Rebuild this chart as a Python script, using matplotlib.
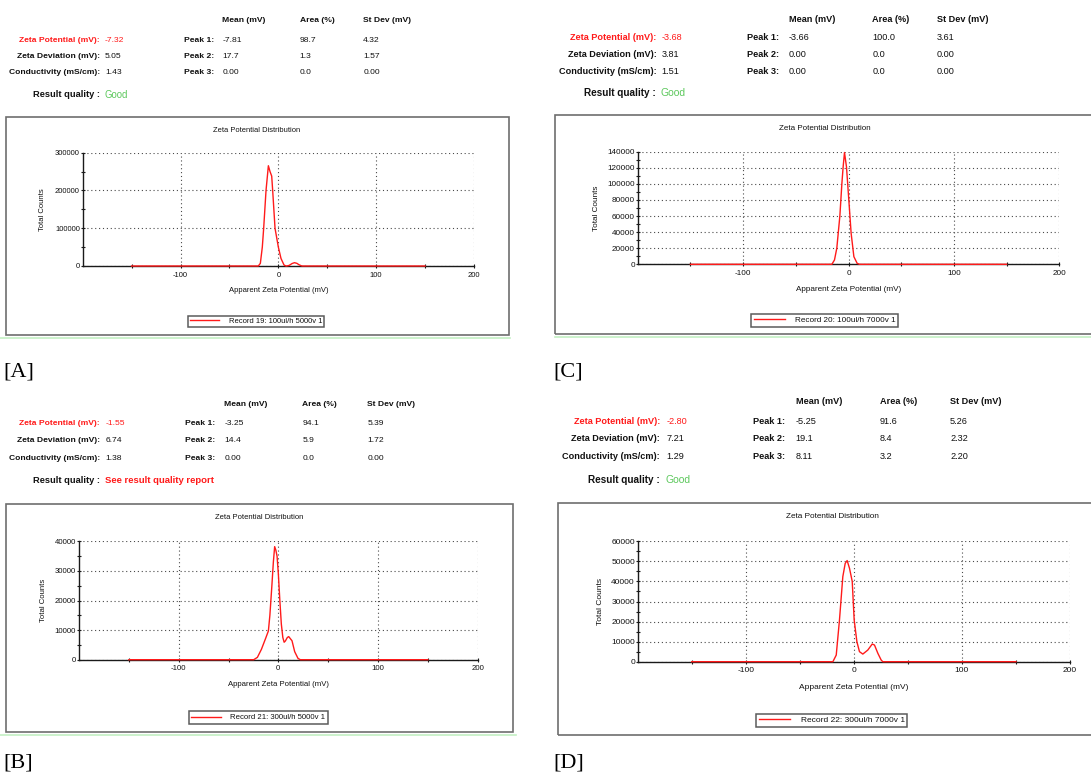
import matplotlib
matplotlib.use("Agg")
import matplotlib.pyplot as plt
from matplotlib.patches import Rectangle
from matplotlib.lines import Line2D
from matplotlib.ticker import MultipleLocator, FixedLocator, FormatStrFormatter

plt.rcParams['font.family'] = ['Liberation Sans', 'DejaVu Sans']
plt.rcParams['axes.unicode_minus'] = False

# ---------------- data (panel order: A, B, C, D) ----------------
panel_letters = ["[A]", "[B]", "[C]", "[D]"]
zeta_potential = ["-7.32", "-1.55", "-3.68", "-2.80"]
zeta_deviation = ["5.05", "6.74", "3.81", "7.21"]
conductivity = ["1.43", "1.38", "1.51", "1.29"]
peak_mean = [["-7.81", "17.7", "0.00"], ["-3.25", "14.4", "0.00"],
             ["-3.66", "0.00", "0.00"], ["-5.25", "19.1", "8.11"]]
peak_area = [["98.7", "1.3", "0.0"], ["94.1", "5.9", "0.0"],
             ["100.0", "0.0", "0.0"], ["91.6", "8.4", "3.2"]]
peak_sd = [["4.32", "1.57", "0.00"], ["5.39", "1.72", "0.00"],
           ["3.61", "0.00", "0.00"], ["5.26", "2.32", "2.20"]]
quality = ["Good", "See result quality report", "Good", "Good"]
records = ["Record 19: 100ul/h 5000v 1", "Record 21: 300ul/h 5000v 1",
           "Record 20: 100ul/h 7000v 1", "Record 22: 300ul/h 7000v 1"]
col_headers = ["Mean (mV)", "Area (%)", "St Dev (mV)"]
row_labels = ["Zeta Potential (mV):", "Zeta Deviation (mV):", "Conductivity (mS/cm):"]
x_ticks = [-100, 0, 100, 200]
x_minor = [-150, -50, 50, 150]
y_max = [300000, 40000, 140000, 60000]
y_step = [100000, 10000, 20000, 10000]

x_A = [-150, -20.5, -18.4, -16.4, -15.0, -12.6, -10.2, -8.5, -6.8, -5.8, -3.4, 0.0, 2.7, 5.8, 7.8,
       8.5, 11, 14, 16.5, 19, 21, 23.5, 24.5, 150]
y_A = [0, 0, 7000, 50000, 100000, 200000, 265500, 250000, 238000, 200000, 100000, 50000, 20000, 2600, 0,
       0, 1500, 6500, 8800, 7000, 3500, 500, 0, 0]
x_B = [-150, -24.7, -21, -17, -13, -10, -8.5, -6.5, -5, -3.7, -2.5, -1.3, 0, 1.5, 3, 4.5, 5.8,
       7, 9, 10.4, 13.7, 16.4, 19.7, 22, 150]
y_B = [0, 0, 800, 3500, 7000, 9700, 15000, 25000, 33000, 38200, 37000, 35000, 29000, 20000, 12000, 7500, 5900,
       6300, 7500, 7800, 6400, 2700, 450, 0, 0]
x_C = [-150, -15.8, -13.3, -11.1, -8.2, -6.3, -5.1, -3.8, -1.9, 0.3, 2.5, 5.1, 8.2, 10.5, 150]
y_C = [0, 0, 5400, 20000, 60000, 100000, 121000, 139000, 121000, 80000, 38500, 9500, 1200, 0, 0]
x_D = [-150, -19.4, -16.3, -13.3, -10.2, -8.0, -6.2, -4.0, -1.5, 0.3, 2.8, 5.2, 8.3, 12.9, 17.0,
       19.1, 22.2, 25.3, 26.8, 150]
y_D = [0, 0, 3300, 20800, 42400, 49000, 50400, 46500, 40000, 20800, 10000, 5000, 3800, 5800, 8800,
       8300, 4200, 800, 0, 0]
curves = [(x_A, y_A), (x_B, y_B), (x_C, y_C), (x_D, y_D)]

# ---------------- layout (pixels) ----------------
W, H = 1091, 775
RED = '#ff1a1a'
GREEN = '#5cc85c'

layout = [
    dict(hs=6.1, cols=[222.5, 299.6, 363.2], hy=20.9, rows=[40.3, 56.6, 72.9], lab_r=99.8, val_l=105,
         peak_l=183.5, rq_y=94.5, rq_r=99.8, rq_l=104.3, rq_s=6.7, q_s=6.9,
         ax=(82.7, 152.7, 474, 266), title=(257, 130), box=(6, 117.3, 509, 335), green=(0, 510, 337.5),
         leg=(256, 321.5), letter=(3, 372), xl_y=290.7, yl_x=43, ts=5.5),
    dict(hs=6.1, cols=[224.2, 302.4, 367.4], hy=404.1, rows=[423.9, 440.6, 458], lab_r=100.1, val_l=105.3,
         peak_l=185, rq_y=480.6, rq_r=100, rq_l=105.3, rq_s=6.7, q_s=6.8,
         ax=(79, 541.3, 477.7, 659.7), title=(259, 517.7), box=(5.7, 504.3, 512.7, 731.7), green=(0, 516, 735),
         leg=(258.2, 717.5), letter=(3, 762.7), xl_y=684.7, yl_x=43.3, ts=5.6),
    dict(hs=6.6, cols=[788.7, 872.3, 936.7], hy=19.2, rows=[37.6, 54.3, 71], lab_r=656.4, val_l=661.6,
         peak_l=747, rq_y=93.3, rq_r=655.7, rq_l=660.6, rq_s=7.2, q_s=7.5,
         ax=(637.7, 151.7, 1059.3, 264.3), title=(825.3, 128), box=(555.4, 115, 1096, 334), green=(555, 1091, 337),
         leg=(824.7, 320.3), letter=(553, 371.7), xl_y=289.3, yl_x=596, ts=5.9),
    dict(hs=6.6, cols=[795.7, 880, 950], hy=401.4, rows=[421.2, 439, 456.4], lab_r=659.9, val_l=666.2,
         peak_l=753.2, rq_y=479.7, rq_r=660, rq_l=665.1, rq_s=7.2, q_s=7.5,
         ax=(637.7, 541.3, 1070, 661.7), title=(832.7, 516.7), box=(558.2, 503.3, 1096, 735), green=None,
         leg=(831.8, 720.2), letter=(553, 762.7), xl_y=687.7, yl_x=600.3, ts=6.0),
]

fig = plt.figure(figsize=(W / 100, H / 100), dpi=100)
fig.patch.set_facecolor('white')


def fx(x):
    return x / W


def fy(y):
    return 1 - y / H


def txt(x, y, s, size, ha='left', bold=False, color='#111111', **kw):
    fig.text(fx(x), fy(y), s, fontsize=size, ha=ha, va='center',
             fontweight='bold' if bold else 'normal', color=color, **kw)


for i, L in enumerate(layout):
    hs = L['hs']
    # ---- header table ----
    for xc, h in zip(L['cols'], col_headers):
        txt(xc, L['hy'], h, hs, bold=True)
    vals = [zeta_potential[i], zeta_deviation[i], conductivity[i]]
    for r in range(3):
        c = RED if r == 0 else '#111111'
        txt(L['lab_r'], L['rows'][r], row_labels[r], hs, ha='right', bold=True, color=c)
        txt(L['val_l'], L['rows'][r], vals[r], hs, color=c)
        txt(L['peak_l'], L['rows'][r], f"Peak {r + 1}:", hs, bold=True)
        for xc, arr in zip(L['cols'], [peak_mean, peak_area, peak_sd]):
            txt(xc, L['rows'][r], arr[i][r], hs)
    txt(L['rq_r'], L['rq_y'], "Result quality :", L['rq_s'], ha='right', bold=True)
    good = quality[i] == "Good"
    txt(L['rq_l'], L['rq_y'], quality[i], L['q_s'], bold=not good, color=GREEN if good else RED)

    # ---- frame box ----
    bl, bt, br, bb = L['box']
    fig.add_artist(Rectangle((fx(bl), fy(bb)), (br - bl) / W, (bb - bt) / H, transform=fig.transFigure,
                             fill=False, edgecolor='#6e6e6e', lw=1.2))
    if L['green']:
        g0, g1, gy = L['green']
        fig.add_artist(Line2D([fx(g0), fx(g1)], [fy(gy), fy(gy)], transform=fig.transFigure,
                              color='#c4f0c4', lw=1.2))

    # ---- chart ----
    al, at, ar, ab = L['ax']
    ax = fig.add_axes([fx(al), fy(ab), (ar - al) / W, (ab - at) / H])
    xs, ys = curves[i]
    ax.plot(xs, ys, color=RED, lw=1.0, zorder=3, clip_on=False, label=records[i])
    ax.set_xlim(-200, 200)
    ax.set_ylim(0, y_max[i])
    ax.xaxis.set_major_locator(FixedLocator(x_ticks))
    ax.xaxis.set_minor_locator(FixedLocator(x_minor))
    ax.yaxis.set_major_locator(MultipleLocator(y_step[i]))
    ax.yaxis.set_minor_locator(MultipleLocator(y_step[i] / 2))
    ax.yaxis.set_major_formatter(FormatStrFormatter('%d'))
    ax.grid(True, which='major', linestyle=(0, (1, 2.5)), color='#4a4a4a', lw=0.8)
    for s in ['top', 'right']:
        ax.spines[s].set_visible(False)
    for s in ['left', 'bottom']:
        ax.spines[s].set_color('#1a1a1a')
        ax.spines[s].set_linewidth(1.0)
    ts = L['ts']
    ax.tick_params(which='both', direction='inout', length=3, width=0.8, color='#1a1a1a',
                   labelsize=ts, labelcolor='#111111')
    ax.tick_params(axis='x', pad=2.5)
    ax.tick_params(axis='y', pad=0.5)
    w_ax = ar - al
    h_ax = ab - at
    ax.set_title("Zeta Potential Distribution", fontsize=ts - 0.1, color='#111111', pad=0,
                 x=(L['title'][0] - al) / w_ax, y=(ab - L['title'][1]) / h_ax, va='center')
    ax.set_xlabel("Apparent Zeta Potential (mV)", fontsize=ts, color='#111111')
    ax.xaxis.set_label_coords(0.5, -(L['xl_y'] - ab) / h_ax)
    ax.xaxis.label.set_va('center')
    ax.set_ylabel("Total Counts", fontsize=ts, color='#111111')
    ax.yaxis.set_label_coords(-(al - L['yl_x']) / w_ax, 0.5)
    ax.yaxis.label.set_va('center')
    ax.yaxis.label.set_ha('center')
    ax.yaxis.label.set_rotation_mode('anchor')

    leg = ax.legend(loc='center', bbox_to_anchor=(fx(L['leg'][0]), fy(L['leg'][1])),
                    bbox_transform=fig.transFigure, fontsize=ts, frameon=True, fancybox=False,
                    edgecolor='#333333', borderpad=0.3, handlelength=3.8, handletextpad=1.25,
                    borderaxespad=0)
    leg.get_frame().set_linewidth(1.1)
    for t in leg.get_texts():
        t.set_color('#111111')

    # ---- panel letter ----
    fig.text(fx(L['letter'][0]), fy(L['letter'][1]), panel_letters[i], fontsize=16,
             family='Liberation Serif', ha='left', va='center', color='black')

fig.savefig("out.png", dpi=100, facecolor='white')
